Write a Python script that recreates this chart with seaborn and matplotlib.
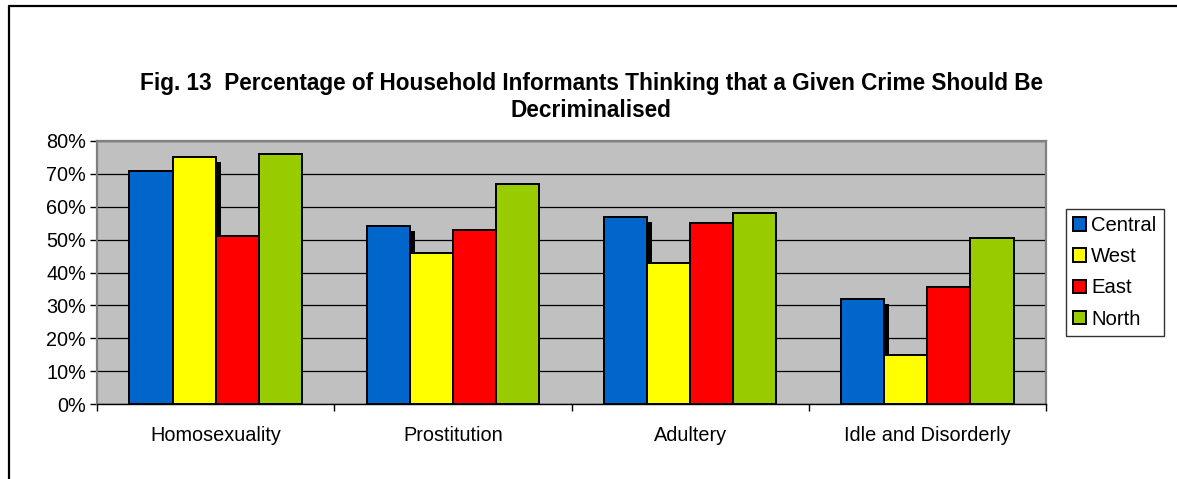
import numpy as np
import pandas as pd
import matplotlib
matplotlib.use("Agg")
import matplotlib.pyplot as plt
import seaborn as sns
from matplotlib.patches import Rectangle
from matplotlib.lines import Line2D
from matplotlib.transforms import ScaledTranslation
from matplotlib.ticker import PercentFormatter, FixedLocator

# ---- data ----
crimes = ["Homosexuality", "Prostitution", "Adultery", "Idle and Disorderly"]
regions = ["Central", "West", "East", "North"]
central = [0.71, 0.54, 0.57, 0.32]
west = [0.75, 0.46, 0.43, 0.15]
east = [0.51, 0.53, 0.55, 0.355]
north = [0.76, 0.67, 0.58, 0.505]
colors = ["#0066CC", "#FFFF00", "#FF0000", "#99CC00"]
title = ("Fig. 13  Percentage of Household Informants Thinking that a Given Crime Should Be\n"
         "Decriminalised")

series = {"Central": central, "West": west, "East": east, "North": north}
df = pd.DataFrame([
    {"crime": c, "region": r, "value": v}
    for r in regions for c, v in zip(crimes, series[r])
])

sns.set_theme(style="white")
plt.rcParams["font.family"] = ["Liberation Sans", "DejaVu Sans"]
plt.rcParams["text.color"] = "black"
plt.rcParams["axes.labelcolor"] = "black"
plt.rcParams["xtick.color"] = "black"
plt.rcParams["ytick.color"] = "black"

W, H = 1177, 479
fig = plt.figure(figsize=(W / 100, H / 100), dpi=100)
fig.patch.set_facecolor("white")
ax = fig.add_axes([97 / W, 1 - 404 / H, (1046 - 97) / W, (404 - 141) / H])
ax.set_facecolor("#C0C0C0")

sns.barplot(data=df, x="crime", y="value", hue="region", order=crimes,
            hue_order=regions, palette=colors, width=0.727, saturation=1,
            edgecolor="black", linewidth=1.4, ax=ax)

# shadows for Central, West, East series
off = ScaledTranslation(5 / 100, -5 / 100, fig.dpi_scale_trans)
for i, cont in enumerate(ax.containers[:3]):
    for p in cont.patches:
        sh = Rectangle((p.get_x(), p.get_y()), p.get_width(), p.get_height(),
                       transform=ax.transData + off, facecolor="black",
                       edgecolor="none", zorder=0.9)
        ax.add_patch(sh)

ax.set_ylim(0, 0.8)
ax.set_xlim(-0.5, 3.5)
ax.yaxis.set_major_locator(FixedLocator(np.arange(0, 0.81, 0.1)))
ax.yaxis.set_major_formatter(PercentFormatter(1.0, decimals=0))
ax.set_axisbelow(True)
ax.grid(axis="y", color="black", linewidth=0.9)
ax.grid(axis="x", visible=False)
ax.set_xlabel("")
ax.set_ylabel("")

ax.tick_params(axis="y", which="major", direction="out", length=5, width=1,
               color="black", labelsize=14.3, labelcolor="black", pad=3, left=True)
ax.xaxis.set_minor_locator(FixedLocator([-0.5, 0.5, 1.5, 2.5, 3.5]))
ax.tick_params(axis="x", which="major", length=0, labelsize=14.3,
               labelcolor="black", pad=16)
ax.tick_params(axis="x", which="minor", direction="out", length=5, width=1,
               color="black", bottom=True)

for s in ["top", "right"]:
    ax.spines[s].set_visible(True)
    ax.spines[s].set_color("#808080")
    ax.spines[s].set_linewidth(1.6)
ax.spines["left"].set_color("#808080")
ax.spines["left"].set_linewidth(1.6)
ax.spines["bottom"].set_color("black")
ax.spines["bottom"].set_linewidth(1.0)

handles, labels = ax.get_legend_handles_labels()
leg = ax.legend(handles, labels, loc="upper left",
                bbox_to_anchor=(1066 / W, 1 - 209 / H), bbox_transform=fig.transFigure,
                borderaxespad=0, frameon=True, fancybox=False, fontsize=14.6,
                handlelength=0.65, handleheight=0.65, handletextpad=0.25,
                labelspacing=0.6, borderpad=0.35)
leg.get_frame().set_edgecolor("black")
leg.get_frame().set_linewidth(1.0)
leg.get_frame().set_facecolor("white")
for t in leg.get_texts():
    t.set_color("black")
for h in leg.legend_handles:
    h.set_edgecolor("black")
    h.set_linewidth(1.4)

fig.text(591 / W, 1 - 97 / H, title, ha="center", va="center", fontsize=16.3,
         fontweight="bold", linespacing=1.2, color="black")

# outer border (top and left only visible)
fig.add_artist(Line2D([9 / W, 1], [1 - 6 / H, 1 - 6 / H], color="black",
                      linewidth=1.6, transform=fig.transFigure))
fig.add_artist(Line2D([9 / W, 9 / W], [0, 1 - 6 / H], color="black",
                      linewidth=1.6, transform=fig.transFigure))

fig.savefig("out.png", dpi=100, facecolor="white")
